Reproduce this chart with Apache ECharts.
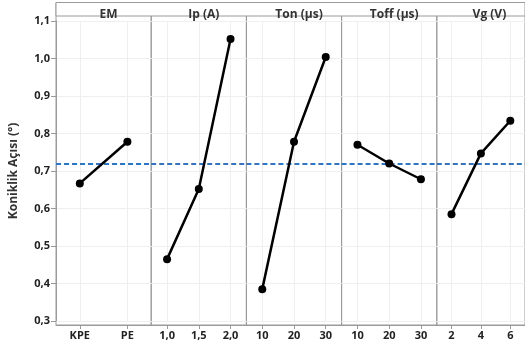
<!DOCTYPE html>
<html>
<head>
<meta charset="utf-8">
<script src="https://cdn.jsdelivr.net/npm/echarts@6/dist/echarts.min.js"></script>
<style>
html,body{margin:0;padding:0;background:#fff;}
#c{width:525px;height:351px;}
</style>
</head>
<body>
<div id="c"></div>
<script>
// ---- data ----
const factorNames = ['EM', 'Ip (A)', 'Ton (µs)', 'Toff (µs)', 'Vg (V)'];
const emLevels = ['KPE', 'PE'];
const emMeans = [0.667, 0.778];
const ipLevels = ['1,0', '1,5', '2,0'];
const ipMeans = [0.465, 0.652, 1.052];
const tonLevels = ['10', '20', '30'];
const tonMeans = [0.385, 0.778, 1.004];
const toffLevels = ['10', '20', '30'];
const toffMeans = [0.770, 0.720, 0.678];
const vgLevels = ['2', '4', '6'];
const vgMeans = [0.585, 0.747, 0.834];
const grandMean = 0.722;
const yTicks = [0.3, 0.4, 0.5, 0.6, 0.7, 0.8, 0.9, 1.0, 1.1];
const yAxisTitle = 'Koniklik Açısı (°)';

const levels = [emLevels, ipLevels, tonLevels, toffLevels, vgLevels];
const means = [emMeans, ipMeans, tonMeans, toffMeans, vgMeans];

// ---- layout ----
const FONT = '"Open Sans", "Noto Sans", sans-serif';
const plotLeft = 56, panelW = 95.2;
const dataTop = 21, dataH = 300;
const frameTop = 2.5, frameBottom = 325;
const headerH = 13.5;
const borderCol = '#9a9a9a';
const gridCol = '#efefef';

const grid = [], xAxis = [], yAxis = [], series = [], title = [];
const N = factorNames.length;
const fmt = v => v.toFixed(1).replace('.', ',');

for (let i = 0; i < N; i++) {
  const left = plotLeft + i * panelW;
  grid.push({left: left, top: dataTop, width: panelW, height: dataH, containLabel: false});
  xAxis.push({
    type: 'category', gridIndex: i, data: levels[i], boundaryGap: true, offset: 4,
    axisLine: {show: true, lineStyle: {color: borderCol}},
    axisTick: {show: true, alignWithLabel: true, length: 4, lineStyle: {color: borderCol}},
    axisLabel: {color: '#222', fontWeight: 'bold', fontSize: 11, fontFamily: FONT, margin: 5, interval: 0},
    splitLine: {show: true, alignWithLabel: true, lineStyle: {color: gridCol, width: 1}}
  });
  yAxis.push({
    type: 'value', gridIndex: i, min: 0.3, max: 1.1, interval: 0.1,
    axisLine: {show: i === 0, lineStyle: {color: borderCol}},
    axisTick: {show: i === 0, length: 5, lineStyle: {color: borderCol}},
    axisLabel: {show: i === 0, formatter: fmt, color: '#222', fontWeight: 'bold', fontSize: 11, fontFamily: FONT, margin: 6},
    splitLine: {show: true, lineStyle: {color: gridCol, width: 1}},
    name: i === 0 ? yAxisTitle : '',
    nameLocation: 'middle', nameGap: 36, nameRotate: 90,
    nameTextStyle: {color: '#333', fontWeight: 'bold', fontSize: 12, fontFamily: FONT}
  });
  series.push({
    type: 'line', xAxisIndex: i, yAxisIndex: i, data: means[i],
    symbol: 'circle', symbolSize: 8,
    itemStyle: {color: '#000'}, lineStyle: {color: '#000', width: 2.5},
    z: 5,
    markLine: {
      silent: true, symbol: 'none', label: {show: false},
      lineStyle: {color: '#2E75C6', type: [5, 3], width: 2},
      data: [{yAxis: grandMean}]
    }
  });
  title.push({
    text: factorNames[i], left: left + panelW / 2, top: frameTop, textAlign: 'center',
    textStyle: {color: '#333', fontWeight: 'bold', fontSize: 12, fontFamily: FONT, lineHeight: 14}
  });
}
for (let i = 0; i < N; i++) {
  const left = plotLeft + i * panelW;
  grid.push({left: left, top: frameTop, width: panelW, height: frameBottom - frameTop,
    show: true, borderColor: borderCol, borderWidth: 1, backgroundColor: 'transparent'});
  xAxis.push({type: 'value', gridIndex: grid.length - 1, show: false});
  yAxis.push({type: 'value', gridIndex: grid.length - 1, show: false});
}
grid.push({left: plotLeft, top: frameTop, width: panelW * N, height: headerH,
  show: true, borderColor: borderCol, borderWidth: 1, backgroundColor: '#fff'});
xAxis.push({type: 'value', gridIndex: grid.length - 1, show: false});
yAxis.push({type: 'value', gridIndex: grid.length - 1, show: false});

const chart = echarts.init(document.getElementById('c'), null, {renderer: 'canvas'});
chart.setOption({
  animation: false,
  backgroundColor: '#fff',
  title: title,
  grid: grid,
  xAxis: xAxis,
  yAxis: yAxis,
  series: series
});
</script>
</body>
</html>
